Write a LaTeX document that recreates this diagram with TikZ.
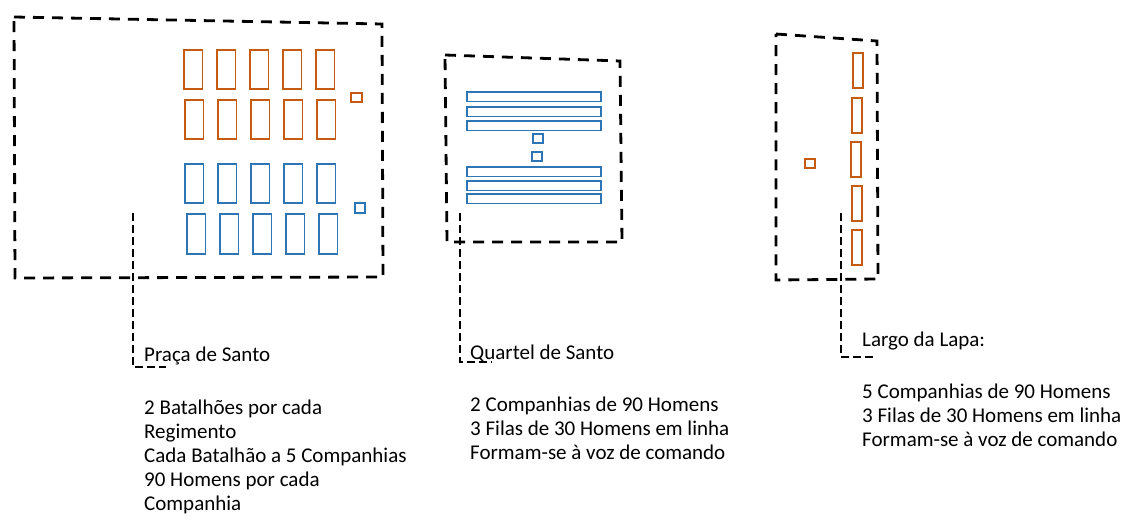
\documentclass[tikz,border=0pt]{standalone}
\usepackage{fontspec}
\setmainfont{Carlito}
\usepackage{tikz}
\usetikzlibrary{calc,positioning}
\usepackage{xcolor}
\definecolor{tropaorange}{RGB}{197,90,17}
\definecolor{tropablue}{RGB}{46,117,182}

\begin{document}
\begin{tikzpicture}[x=1pt, y=-1pt,
    every node/.style={font=\fontsize{21}{24}\selectfont, inner sep=0pt},
    area/.style={black, line width=2.8pt, dash pattern=on 11pt off 8pt},
    leader/.style={black, line width=2.2pt, dash pattern=on 8pt off 4pt},
    orange/.style={tropaorange, line width=1.8pt},
    blue/.style={tropablue, line width=1.8pt}]
  \useasboundingbox (0,0) rectangle (1126,519);

  % Praca de Santo
  \draw[area] (14,17) -- (382,24) -- (383,277) -- (15,278) -- cycle;
  \foreach \i in {0,...,4} {
    \draw[orange] (184+33*\i,50) rectangle ++(18.5,39);
    \draw[orange] (185+33*\i,100) rectangle ++(18.5,39);
    \draw[blue] (185+33*\i,164) rectangle ++(18.5,39);
    \draw[blue] (187+33*\i,214) rectangle ++(18.5,40);
  }
  \draw[orange] (351,93) rectangle (362,102);
  \draw[blue] (355,203) rectangle (365,213);

  % Quartel de Santo
  \draw[area] (445,55) -- (620,61) -- (622,242) -- (447,242) -- cycle;
  \foreach \y in {92,107,121,167,181,194} {
    \draw[blue] (467,\y) rectangle ++(134,9.5);
  }
  \draw[blue] (533,134) rectangle ++(10,9);
  \draw[blue] (532,152) rectangle ++(10,9);

  % Largo da Lapa
  \draw[area] (776,34) -- (877,41) -- (878,279) -- (776,280) -- cycle;
  \foreach \x/\y in {853/53, 852/98, 851/142, 852/186, 852/230} {
    \draw[orange] (\x,\y) rectangle ++(10,35);
  }
  \draw[orange] (805,159) rectangle (815,168);

  % legendas
  \node[anchor=base west] (lblPraca) at (144,361) {Praça de Santo};
  \node[anchor=base west] (lblQuartel) at (470,359) {Quartel de Santo};
  \node[anchor=base west] (lblLapa) at (862,346) {Largo da Lapa:};

  \coordinate (inPraca) at (133,213);
  \coordinate (inQuartel) at (460,213);
  \coordinate (inLapa) at (841,213);
  \draw[leader] (inPraca) |- ([shift={(22,2)}]lblPraca.south west);
  \draw[leader] (inQuartel) |- ([shift={(22,0)}]lblQuartel.south west);
  \draw[leader] (inLapa) |- ([shift={(13,7)}]lblLapa.south west);

  % base = baseline of the last line
  \node[anchor=base west, align=left] (txtPraca) at (144,510)
    {2 Batalhões por cada\\Regimento\\Cada Batalhão a 5 Companhias\\90 Homens por cada\\Companhia};
  \node[anchor=base west, align=left] (txtQuartel) at (470,459)
    {2 Companhias de 90 Homens\\3 Filas de 30 Homens em linha\\Formam-se à voz de comando};
  \node[anchor=base west, align=left] (txtLapa) at (862,446)
    {5 Companhias de 90 Homens\\3 Filas de 30 Homens em linha\\Formam-se à voz de comando};
\end{tikzpicture}
\end{document}
